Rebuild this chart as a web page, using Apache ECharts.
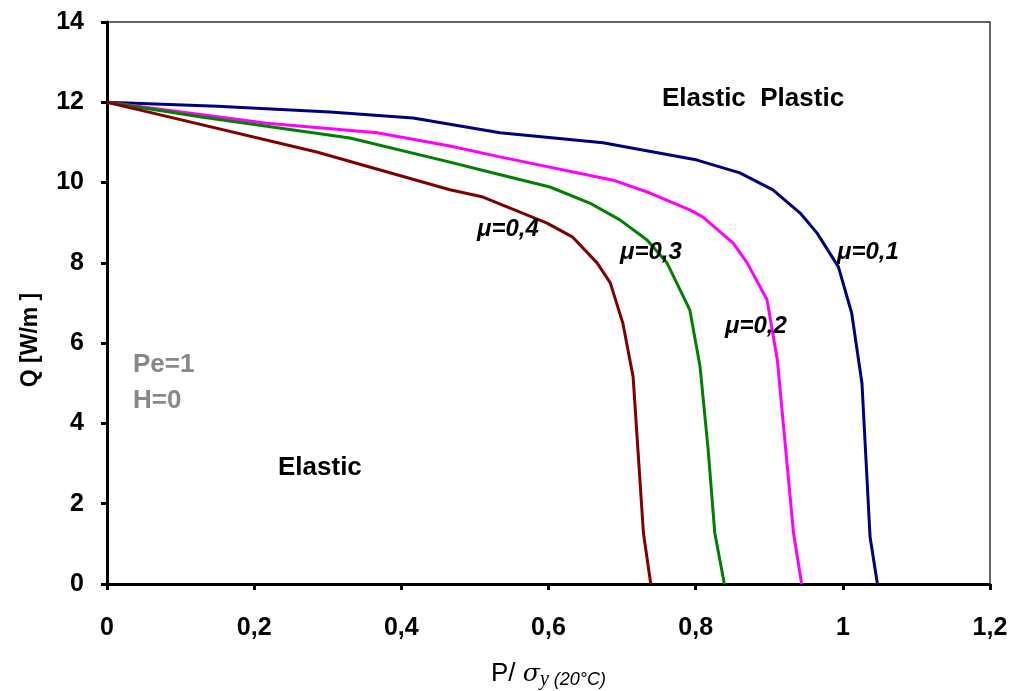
<!DOCTYPE html>
<html>
<head>
<meta charset="utf-8">
<script src="https://cdn.jsdelivr.net/npm/echarts@6/dist/echarts.min.js"></script>
<style>
  html, body { margin: 0; padding: 0; background: #fff; }
  #chart { width: 1013px; height: 691px; }
</style>
</head>
<body>
<div id="chart"></div>
<script>
// Load ratio P/σy (x) against heat flux Q (y), one curve per friction coefficient μ
const mu01P = [0, 0.15, 0.303, 0.416, 0.534, 0.674, 0.802, 0.860, 0.905, 0.942, 0.965, 0.994, 1.012, 1.026, 1.037, 1.047];
const mu01Q = [12, 11.9, 11.76, 11.61, 11.24, 10.99, 10.56, 10.24, 9.82, 9.24, 8.74, 7.90, 6.75, 5.0, 1.17, 0];

const mu02P = [0, 0.217, 0.367, 0.466, 0.534, 0.688, 0.738, 0.792, 0.810, 0.851, 0.870, 0.897, 0.911, 0.933, 0.944];
const mu02Q = [12, 11.48, 11.24, 10.91, 10.64, 10.06, 9.74, 9.32, 9.14, 8.49, 8.0, 7.08, 5.58, 1.27, 0];

const mu03P = [0, 0.126, 0.330, 0.466, 0.525, 0.602, 0.656, 0.697, 0.734, 0.761, 0.792, 0.806, 0.817, 0.826, 0.839];
const mu03Q = [12, 11.64, 11.11, 10.51, 10.24, 9.89, 9.49, 9.07, 8.57, 8.0, 6.83, 5.41, 3.34, 1.27, 0];

const mu04P = [0, 0.0625, 0.285, 0.466, 0.511, 0.598, 0.633, 0.666, 0.684, 0.701, 0.715, 0.729, 0.739];
const mu04Q = [12, 11.73, 10.76, 9.82, 9.64, 8.99, 8.64, 8.0, 7.5, 6.50, 5.16, 1.27, 0];

const seriesNames = ['μ=0,1', 'μ=0,2', 'μ=0,3', 'μ=0,4'];
const seriesColors = ['#000080', '#ff00ff', '#008000', '#800000'];
const xTicks = [0, 0.2, 0.4, 0.6, 0.8, 1, 1.2];
const yTicks = [0, 2, 4, 6, 8, 10, 12, 14];

function pairs(xs, ys) { return xs.map((x, i) => [x, ys[i]]); }
const curves = [pairs(mu01P, mu01Q), pairs(mu02P, mu02Q), pairs(mu03P, mu03Q), pairs(mu04P, mu04Q)];

const chart = echarts.init(document.getElementById('chart'));
const font = 'Liberation Sans, Arial, sans-serif';

const muStyle = { fontFamily: font, fontWeight: 'bold', fontStyle: 'italic', fontSize: 24, fill: '#000', verticalAlign: 'middle' };
const noteStyle = { fontFamily: font, fontWeight: 'bold', fontSize: 26, verticalAlign: 'middle' };

chart.setOption({
  animation: false,
  backgroundColor: '#fff',
  grid: {
    left: 107, right: 23, top: 22, bottom: 107, outerBoundsMode: 'none', containLabel: false,
    show: true, borderColor: '#333', borderWidth: 1.5, backgroundColor: 'transparent'
  },
  xAxis: {
    type: 'value', min: xTicks[0], max: xTicks[xTicks.length - 1], interval: 0.2,
    axisLine: { show: true, onZero: false, lineStyle: { color: '#000', width: 3 } },
    axisTick: { show: true, inside: false, length: 6, lineStyle: { color: '#000', width: 3 } },
    splitLine: { show: false },
    axisLabel: {
      margin: 32, color: '#000', fontFamily: font, fontWeight: 'bold', fontSize: 25,
      formatter: v => String(+v.toFixed(1)).replace('.', ',')
    },
    name: '{p|P/ }{s|σ}{y|y}{t| (20°C)}',
    nameLocation: 'middle', nameGap: 74,
    nameTextStyle: {
      rich: {
        p: { fontFamily: font, fontSize: 26, color: '#000' },
        s: { fontFamily: 'DejaVu Serif, Liberation Serif, serif', fontStyle: 'italic', fontSize: 25, color: '#000' },
        y: { fontFamily: 'Liberation Serif, serif', fontStyle: 'italic', fontSize: 20, color: '#000', padding: [12, 0, 0, 0] },
        t: { fontFamily: font, fontStyle: 'italic', fontSize: 18, color: '#000', padding: [12, 0, 0, 0] }
      }
    }
  },
  yAxis: {
    type: 'value', min: yTicks[0], max: yTicks[yTicks.length - 1], interval: 2,
    axisLine: { show: true, onZero: false, lineStyle: { color: '#000', width: 3 } },
    axisTick: { show: true, inside: false, length: 6, lineStyle: { color: '#000', width: 3 } },
    splitLine: { show: false },
    axisLabel: { margin: 23, color: '#000', fontFamily: font, fontWeight: 'bold', fontSize: 25 }
  },
  series: curves.map((d, i) => ({
    name: seriesNames[i], type: 'line', data: d, showSymbol: false, symbol: 'none',
    lineStyle: { color: seriesColors[i], width: 3 }, smooth: false, z: 3
  })),
  graphic: [
    { type: 'text', x: 31, y: 340, rotation: Math.PI / 2, style: { text: 'Q [W/m ]', fontFamily: font, fontWeight: 'bold', fontSize: 23, fill: '#000', align: 'center', verticalAlign: 'middle' } },
    { type: 'text', x: 662, y: 99, style: Object.assign({ text: 'Elastic  Plastic', fill: '#000' }, noteStyle) },
    { type: 'text', x: 278, y: 468, style: Object.assign({ text: 'Elastic', fill: '#000' }, noteStyle) },
    { type: 'text', x: 133, y: 365, style: Object.assign({ text: 'Pe=1', fill: '#888' }, noteStyle) },
    { type: 'text', x: 133, y: 401, style: Object.assign({ text: 'H=0', fill: '#888' }, noteStyle) },
    { type: 'text', x: 477, y: 229, z: 10, style: Object.assign({ text: seriesNames[3] }, muStyle) },
    { type: 'text', x: 620, y: 252, z: 10, style: Object.assign({ text: seriesNames[2] }, muStyle) },
    { type: 'text', x: 725, y: 326, z: 10, style: Object.assign({ text: seriesNames[1] }, muStyle) },
    { type: 'text', x: 837, y: 252, z: 10, style: Object.assign({ text: seriesNames[0] }, muStyle) }
  ]
});
</script>
</body>
</html>
